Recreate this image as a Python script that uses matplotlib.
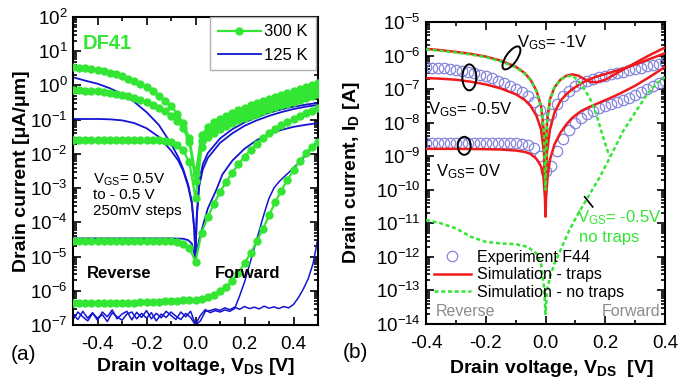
import matplotlib
matplotlib.use("Agg")
import matplotlib.pyplot as plt
import numpy as np
from matplotlib.lines import Line2D
from matplotlib.patches import Ellipse
from matplotlib.ticker import FormatStrFormatter, LogLocator, NullFormatter
from matplotlib.transforms import ScaledTranslation

plt.rcParams["font.family"] = ["Liberation Sans", "DejaVu Sans"]
plt.rcParams["mathtext.fontset"] = "custom"
plt.rcParams["mathtext.rm"] = "Liberation Sans"
plt.rcParams["mathtext.it"] = "Liberation Sans:italic"
plt.rcParams["mathtext.bf"] = "Liberation Sans:bold"
plt.rcParams["axes.unicode_minus"] = False

GREEN = "#33e633"
BLUE = "#1414d2"
RED = "#f01a1a"
LAVENDER = "#8585de"

X_MAJOR = [-0.4, -0.2, 0.0, 0.2, 0.4]

# ---- panel (a): DF41, log10 of drain current [uA/um] ----
V_SWEEP = [-0.5, -0.475, -0.45, -0.425, -0.4, -0.375, -0.35, -0.325, -0.3, -0.275,
           -0.25, -0.225, -0.2, -0.175, -0.15, -0.125, -0.1, -0.075, -0.05, -0.025,
           0.0, 0.025, 0.05, 0.075, 0.1, 0.125, 0.15, 0.175, 0.2, 0.225,
           0.25, 0.275, 0.3, 0.325, 0.35, 0.375, 0.4, 0.425, 0.45, 0.475, 0.5]

k300_1 = [0.55, 0.52, 0.50, 0.47, 0.45, 0.41, 0.37, 0.32, 0.27, 0.20,
          0.12, 0.04, -0.05, -0.17, -0.30, -0.44, -0.60, -0.82, -1.10, -1.55,
          -2.6, -1.45, -1.22, -1.08, -0.97, -0.88, -0.80, -0.72, -0.65, -0.58,
          -0.52, -0.46, -0.40, -0.34, -0.28, -0.22, -0.16, -0.10, -0.04, 0.02, 0.08]
k300_2 = [-0.13, -0.14, -0.15, -0.16, -0.17, -0.19, -0.21, -0.24, -0.27, -0.31,
          -0.36, -0.42, -0.49, -0.57, -0.66, -0.76, -0.88, -1.03, -1.25, -1.65,
          -2.8, -1.62, -1.38, -1.24, -1.13, -1.04, -0.96, -0.88, -0.81, -0.74,
          -0.68, -0.62, -0.56, -0.50, -0.44, -0.38, -0.33, -0.27, -0.21, -0.16, -0.11]
k300_3 = [-1.60, -1.60, -1.60, -1.60, -1.60, -1.60, -1.60, -1.60, -1.60, -1.60,
          -1.60, -1.60, -1.60, -1.60, -1.60, -1.62, -1.66, -1.74, -1.90, -2.25,
          -3.3, -1.80, -1.52, -1.38, -1.27, -1.18, -1.10, -1.02, -0.95, -0.88,
          -0.82, -0.76, -0.70, -0.64, -0.58, -0.53, -0.47, -0.42, -0.36, -0.31, -0.26]
k300_4 = [-4.55, -4.55, -4.55, -4.55, -4.55, -4.55, -4.55, -4.55, -4.55, -4.55,
          -4.55, -4.55, -4.55, -4.55, -4.55, -4.55, -4.55, -4.57, -4.62, -4.75,
          -5.15, -4.30, -3.85, -3.45, -3.12, -2.82, -2.55, -2.30, -2.08, -1.88,
          -1.70, -1.54, -1.40, -1.28, -1.17, -1.07, -0.98, -0.89, -0.81, -0.74, -0.66]
k300_5 = [-6.35, -6.35, -6.35, -6.35, -6.35, -6.35, -6.35, -6.35, -6.35, -6.35,
          -6.35, -6.34, -6.34, -6.33, -6.32, -6.31, -6.30, -6.29, -6.28, -6.27,
          -6.27, -6.24, -6.19, -6.12, -6.02, -5.88, -5.70, -5.47, -5.20, -4.90,
          -4.55, -4.20, -3.80, -3.42, -3.07, -2.76, -2.48, -2.22, -1.98, -1.80, -1.65]

v125_hi = [-0.5, -0.45, -0.4, -0.35, -0.3, -0.25, -0.2, -0.15, -0.1, -0.07,
           -0.05, -0.03, -0.015, -0.005, 0.0, 0.005, 0.015, 0.03, 0.05, 0.1,
           0.15, 0.2, 0.25, 0.3, 0.35, 0.4, 0.45, 0.5]
k125_1 = [0.24, 0.14, 0.05, -0.08, -0.25, -0.48, -0.78, -1.15, -1.70, -2.10,
          -2.45, -2.90, -3.40, -4.20, -5.0, -3.80, -2.80, -2.30, -1.98, -1.55,
          -1.28, -1.08, -0.93, -0.80, -0.70, -0.62, -0.56, -0.51]
k125_2 = [-0.98, -0.98, -0.98, -0.99, -1.02, -1.10, -1.25, -1.50, -1.90, -2.20,
          -2.50, -2.95, -3.45, -4.20, -5.0, -3.90, -2.95, -2.45, -2.12, -1.68,
          -1.40, -1.18, -1.02, -0.89, -0.78, -0.69, -0.62, -0.57]
v125_mid = [-0.5, -0.4, -0.3, -0.2, -0.1, -0.05, -0.03, -0.015, -0.007, 0.0,
            0.007, 0.015, 0.03, 0.05, 0.085, 0.11, 0.15, 0.2, 0.25, 0.3,
            0.35, 0.4, 0.45, 0.5]
k125_3 = [-4.47, -4.47, -4.47, -4.47, -4.47, -4.48, -4.52, -4.62, -4.85, -5.10,
          -4.80, -4.50, -4.10, -3.60, -3.05, -2.60, -2.20, -1.85, -1.60, -1.42,
          -1.30, -1.21, -1.15, -1.10]
v125_lo = [-0.5, -0.48, -0.46, -0.44, -0.42, -0.4, -0.38, -0.36, -0.34, -0.32,
           -0.3, -0.28, -0.26, -0.24, -0.22, -0.2, -0.18, -0.16, -0.14, -0.12,
           -0.1, -0.08, -0.06, -0.04, -0.02, 0.0, 0.02, 0.04, 0.06, 0.08,
           0.1, 0.12, 0.14, 0.16, 0.18, 0.2, 0.22, 0.24, 0.26, 0.28,
           0.3, 0.32, 0.34, 0.36, 0.38, 0.4, 0.42, 0.44, 0.46, 0.48, 0.5]
k125_4 = [-6.68, -6.84, -6.60, -6.80, -6.64, -6.86, -6.62, -6.76, -6.56, -6.82,
          -6.68, -6.60, -6.85, -6.63, -6.78, -6.58, -6.82, -6.66, -6.79, -6.60,
          -6.72, -6.84, -6.62, -6.76, -6.60, -6.98, -6.72, -6.55, -6.64, -6.58,
          -6.62, -6.56, -6.60, -6.52, -6.15, -5.75, -5.25, -4.75, -4.25, -3.75,
          -3.30, -3.00, -2.82, -2.68, -2.55, -2.40, -2.27, -2.12, -1.96, -1.80, -1.64]
k125_5 = [-6.84, -6.62, -6.76, -6.88, -6.66, -6.80, -6.70, -6.90, -6.64, -6.76,
          -6.86, -6.68, -6.62, -6.82, -6.66, -6.80, -6.64, -6.88, -6.68, -6.78,
          -6.62, -6.74, -6.84, -6.66, -6.78, -7.00, -6.88, -6.60, -6.58, -6.53,
          -6.57, -6.50, -6.55, -6.48, -6.54, -6.46, -6.52, -6.48, -6.53, -6.45,
          -6.51, -6.47, -6.52, -6.46, -6.50, -6.40, -6.20, -5.95, -5.65, -5.20, -4.45]

# ---- panel (b): F44, log10 of drain current [A] ----
V_MEAS = [-0.4, -0.38, -0.36, -0.34, -0.32, -0.3, -0.28, -0.26, -0.24, -0.22,
          -0.2, -0.18, -0.16, -0.14, -0.12, -0.1, -0.08, -0.06, -0.04, -0.02,
          0.0, 0.02, 0.04, 0.06, 0.08, 0.1, 0.12, 0.14, 0.16, 0.18,
          0.2, 0.22, 0.24, 0.26, 0.28, 0.3, 0.32, 0.34, 0.36, 0.38, 0.4]
exp_m05 = [-6.35, -6.36, -6.37, -6.38, -6.40, -6.42, -6.45, -6.48, -6.52, -6.57,
           -6.62, -6.68, -6.75, -6.82, -6.90, -6.99, -7.10, -7.22, -7.38, -7.62,
           -8.05, -7.75, -7.45, -7.22, -7.05, -6.92, -6.82, -6.75, -6.69, -6.64,
           -6.60, -6.56, -6.52, -6.48, -6.44, -6.40, -6.36, -6.32, -6.28, -6.24, -6.20]
exp_0 = [-8.60, -8.60, -8.60, -8.60, -8.60, -8.60, -8.60, -8.60, -8.60, -8.60,
         -8.60, -8.60, -8.60, -8.60, -8.60, -8.61, -8.63, -8.67, -8.75, -9.00,
         -9.45, -9.30, -8.85, -8.50, -8.22, -8.02, -7.87, -7.75, -7.65, -7.57,
         -7.50, -7.43, -7.37, -7.31, -7.25, -7.18, -7.10, -7.01, -6.92, -6.83, -6.75]

v_sim = [-0.4, -0.35, -0.3, -0.25, -0.2, -0.15, -0.1, -0.07, -0.05, -0.03,
         -0.015, -0.005, 0.0, 0.005, 0.015, 0.03, 0.05, 0.07, 0.09, 0.11,
         0.13, 0.15, 0.17, 0.2, 0.25, 0.3, 0.35, 0.4]
trap_m1 = [-5.80, -5.84, -5.89, -5.95, -6.03, -6.15, -6.33, -6.52, -6.72, -7.05,
           -7.50, -8.30, -10.0, -8.00, -7.30, -6.95, -6.72, -6.60, -6.56, -6.60,
           -6.70, -6.78, -6.80, -6.72, -6.47, -6.22, -5.98, -5.76]
trap_m05 = [-6.67, -6.69, -6.72, -6.78, -6.86, -6.98, -7.15, -7.32, -7.50, -7.80,
            -8.20, -8.90, -10.5, -8.90, -8.20, -7.70, -7.35, -7.15, -7.00, -6.88,
            -6.78, -6.70, -6.63, -6.55, -6.42, -6.27, -6.10, -5.93]
v_sim0 = [-0.4, -0.3, -0.2, -0.15, -0.1, -0.07, -0.05, -0.03, -0.015, -0.007,
          -0.002, 0.0, 0.002, 0.007, 0.015, 0.03, 0.05, 0.07, 0.09, 0.12,
          0.15, 0.2, 0.25, 0.3, 0.35, 0.4]
trap_0 = [-8.78, -8.78, -8.79, -8.80, -8.83, -8.87, -8.93, -9.08, -9.30, -9.60,
          -10.2, -10.8, -10.2, -9.60, -9.10, -8.65, -8.30, -8.05, -7.85, -7.65,
          -7.52, -7.33, -7.13, -6.90, -6.63, -6.34]
v_notrap1 = [-0.4, -0.35, -0.3, -0.25, -0.2, -0.15, -0.1, -0.07, -0.05, -0.03,
             -0.015, -0.005, 0.0, 0.005, 0.015, 0.03, 0.05, 0.07, 0.09, 0.11,
             0.13, 0.15, 0.17, 0.19, 0.21, 0.215]
notrap_m1 = [-5.82, -5.86, -5.91, -5.97, -6.05, -6.17, -6.35, -6.54, -6.74, -7.07,
             -7.52, -8.30, -10.0, -8.00, -7.30, -6.95, -6.72, -6.62, -6.60, -6.75,
             -7.00, -7.30, -7.75, -8.35, -8.90, -9.00]
v_notrap2 = [-0.4, -0.35, -0.3, -0.25, -0.2, -0.15, -0.1, -0.06, -0.03, -0.015,
             -0.005, 0.0, 0.005, 0.015, 0.03, 0.05, 0.08, 0.11, 0.14, 0.18,
             0.215, 0.26, 0.3, 0.34, 0.37, 0.4]
notrap_m05 = [-10.9, -11.0, -11.15, -11.4, -11.55, -11.6, -11.62, -11.7, -11.9, -12.2,
              -12.9, -13.7, -13.0, -12.6, -12.2, -11.8, -11.2, -10.7, -10.25, -9.65,
              -9.05, -8.25, -7.70, -7.15, -6.85, -6.64]

fig = plt.figure(figsize=(6.94, 3.79), dpi=100)
ax_a = fig.add_axes([73 / 694, 1 - 325 / 379, 245 / 694, 308 / 379])
ax_b = fig.add_axes([426 / 694, 1 - 324 / 379, 239 / 694, 302 / 379])


def pw(vals):
    return 10.0 ** np.asarray(vals)


def style_axes(ax, xlim, ylim, minor_x):
    ax.set_yscale("log")
    ax.set_xlim(*xlim)
    ax.set_ylim(*ylim)
    ax.set_xticks(X_MAJOR)
    ax.set_xticks(minor_x, minor=True)
    ax.xaxis.set_major_formatter(FormatStrFormatter("%.1f"))
    ax.yaxis.set_major_locator(LogLocator(base=10, numticks=20))
    ax.yaxis.set_minor_locator(LogLocator(base=10, subs=np.arange(2, 10), numticks=20))
    ax.yaxis.set_minor_formatter(NullFormatter())
    ax.tick_params(which="both", direction="in", top=True, right=True, width=1.2)
    ax.tick_params(which="major", length=5.5, labelsize=13.5)
    ax.tick_params(which="minor", length=3)
    ax.tick_params(axis="x", which="major", pad=8)
    ax.tick_params(axis="y", which="major", pad=4)
    for sp in ax.spines.values():
        sp.set_linewidth(1.5)


# panel (a)
for vals in (k300_1, k300_2, k300_3, k300_4, k300_5):
    ax_a.plot(V_SWEEP, pw(vals), color=GREEN, lw=1.6, marker="o", ms=5, mec=GREEN, zorder=3)
for vals in (k125_1, k125_2):
    ax_a.plot(v125_hi, pw(vals), color=BLUE, lw=1.3, zorder=2)
ax_a.plot(v125_mid, pw(k125_3), color=BLUE, lw=1.3, zorder=2)
ax_a.plot(v125_lo, pw(k125_4), color=BLUE, lw=1.1, zorder=2)
ax_a.plot(v125_lo, pw(k125_5), color=BLUE, lw=1.1, zorder=2)
style_axes(ax_a, (-0.5, 0.5), (1e-7, 1e2), [-0.3, -0.1, 0.1, 0.3])

leg_a = ax_a.legend(
    [Line2D([], [], color=GREEN, lw=1.6, marker="o", ms=5), Line2D([], [], color=BLUE, lw=1.3)],
    ["300 K", "125 K"], loc="upper right", bbox_to_anchor=(0.99, 1.0), borderaxespad=0,
    fontsize=12, handlelength=2.6, handletextpad=0.2, labelspacing=0.5,
    fancybox=False, edgecolor="#b0b0b0", framealpha=1, borderpad=0.45,
)
leg_a.get_frame().set_linewidth(1.0)

ax_a.text(-0.462, 10 ** 1.24, "DF41", color=GREEN, fontsize=14.5, fontweight="bold", va="center")
ax_a.text(-0.42, 10 ** -2.75, r"V$_{\rm GS}$= 0.5V", fontsize=11, va="center")
ax_a.text(-0.42, 10 ** -3.2, "to - 0.5 V", fontsize=11, va="center")
ax_a.text(-0.42, 10 ** -3.68, "250mV steps", fontsize=11, va="center")
ax_a.text(-0.445, 10 ** -5.49, "Reverse", fontsize=12, fontweight="bold", va="center")
ax_a.text(0.078, 10 ** -5.49, "Forward", fontsize=12, fontweight="bold", va="center")

ax_a.set_ylabel("Drain current [μA/μm]", fontsize=14, fontweight="bold")
ax_a.yaxis.set_label_coords(-0.176, 0.5)
ax_a.set_xlabel(r"Drain voltage, V$_{\mathbf{DS}}$ [V]", fontsize=14, fontweight="bold", va="top")
ax_a.xaxis.set_label_coords(0.5, -0.10)
fig.text(11 / 694, 1 - 354 / 379, "(a)", fontsize=15, va="center")

# panel (b)
ax_b.plot(V_MEAS, pw(exp_m05), ls="none", marker="o", ms=7.5, mfc="none", mec=LAVENDER, mew=0.9, zorder=2)
ax_b.plot(V_MEAS, pw(exp_0), ls="none", marker="o", ms=7.5, mfc="none", mec=LAVENDER, mew=0.9, zorder=2)
ax_b.plot(v_sim, pw(trap_m1), color=RED, lw=1.8, zorder=3)
ax_b.plot(v_sim, pw(trap_m05), color=RED, lw=1.8, zorder=3)
ax_b.plot(v_sim0, pw(trap_0), color=RED, lw=1.8, zorder=3)
dash = (0, (1.6, 1.1))
ax_b.plot(v_notrap1, pw(notrap_m1), color=GREEN, lw=1.8, ls=dash, zorder=4)
ax_b.plot(v_notrap2, pw(notrap_m05), color=GREEN, lw=1.8, ls=dash, zorder=4)
style_axes(ax_b, (-0.4, 0.4), (1e-14, 1e-5), [-0.3, -0.1, 0.1, 0.3])

leg_b = ax_b.legend(
    [Line2D([], [], ls="none", marker="o", ms=7.5, mfc="none", mec=LAVENDER, mew=0.9),
     Line2D([], [], color=RED, lw=1.8),
     Line2D([], [], color=GREEN, lw=1.8, ls=dash)],
    ["Experiment F44", "Simulation - traps", "Simulation - no traps"],
    loc="lower left", bbox_to_anchor=(0.02, 0.07), borderaxespad=0, frameon=False,
    fontsize=11.5, handlelength=2.3, handletextpad=0.4, labelspacing=0.15, borderpad=0.2,
)


def ring(ax, x, y, w, h, angle=0.0):
    tr = fig.dpi_scale_trans + ScaledTranslation(x, y, ax.transData)
    ax.add_patch(Ellipse((0, 0), w, h, angle=angle, transform=tr, fill=False,
                         ec="black", lw=1.4, zorder=5))


ring(ax_b, -0.114, 10 ** -6.07, 0.27, 0.11, 55)
ring(ax_b, -0.255, 10 ** -6.65, 0.14, 0.26)
ring(ax_b, -0.272, 10 ** -8.69, 0.13, 0.18)
ax_b.plot([0.131, 0.158], [10 ** -10.21, 10 ** -10.51], color="black", lw=1.2, zorder=5)

ax_b.text(-0.097, 10 ** -5.63, r"V$_{\rm GS}$= -1V", fontsize=12, va="center")
ax_b.text(-0.392, 10 ** -7.62, r"V$_{\rm GS}$= -0.5V", fontsize=12, va="center")
ax_b.text(-0.366, 10 ** -9.47, r"V$_{\rm GS}$= 0V", fontsize=12, va="center")
ax_b.text(0.107, 10 ** -10.84, r"V$_{\rm GS}$= -0.5V", fontsize=12, color=GREEN, va="center")
ax_b.text(0.112, 10 ** -11.41, "no traps", fontsize=12, color=GREEN, va="center")
ax_b.text(-0.366, 10 ** -13.64, "Reverse", fontsize=11.5, color="#8c8c8c", va="center")
ax_b.text(0.383, 10 ** -13.64, "Forward", fontsize=11.5, color="#8c8c8c", va="center", ha="right")

ax_b.set_ylabel(r"Drain current, I$_{\mathbf{D}}$ [A]", fontsize=14, fontweight="bold")
ax_b.yaxis.set_label_coords(-0.268, 0.5)
ax_b.set_xlabel(r"Drain voltage, V$_{\mathbf{DS}}$  [V]", fontsize=14, fontweight="bold", va="top")
ax_b.xaxis.set_label_coords(0.523, -0.112)
fig.text(343 / 694, 1 - 352 / 379, "(b)", fontsize=15, va="center")

fig.savefig("out.png", dpi=100)
